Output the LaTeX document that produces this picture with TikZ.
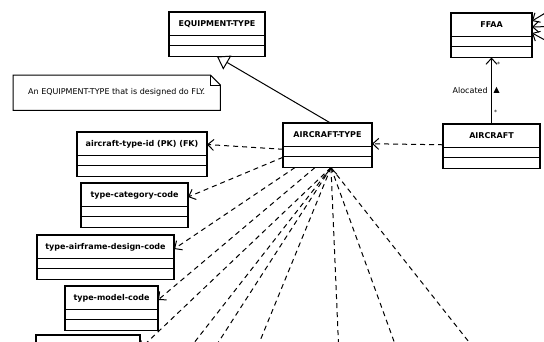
\documentclass[tikz,border=0pt]{standalone}
\usepackage{fontspec}
\setmainfont{DejaVu Sans}
\usetikzlibrary{arrows.meta,shapes.multipart}

\newcommand{\clsstrut}{\rule[-6.2pt]{0pt}{18pt}}

\begin{document}
\begin{tikzpicture}[x=1pt,y=-1pt,>={Straight Barb[length=6pt,width=11pt]},
  class box/.style={rectangle split,rectangle split parts=3,draw,line width=1.2pt,
    inner xsep=2pt,inner ysep=2pt,outer sep=0pt,anchor=north west,
    rectangle split empty part height=2.5pt,rectangle split empty part depth=0pt,
    font=\fontsize{8}{9.6}\selectfont\bfseries},
  dep/.style={->,dash pattern=on 5pt off 4pt,line width=1pt},
  assoc/.style={->,line width=1pt},
  gen/.style={-{Triangle[open,length=12pt,width=16pt]},line width=1pt},
  mult/.style={font=\fontsize{6}{7}\selectfont,inner sep=2pt}]
  \useasboundingbox (0,0) rectangle (544,341);
  \clip (0,0) rectangle (544,341);

  \foreach \n/\x/\y/\w/\t in {equip/169/12/96/EQUIPMENT-TYPE, ffaa/451/13/81/FFAA,
      actype/283/123/89/AIRCRAFT-TYPE, aircraft/443/124/97/AIRCRAFT,
      typeid/77/132/130/aircraft-type-id (PK) (FK), catcode/81/183/107/type-category-code,
      airframe/37/235/137/type-airframe-design-code, model/65/286/93/type-model-code}
    \node[class box,minimum width=\w pt] (\n) at (\x,\y) {\clsstrut\t\nodepart{two}\nodepart{three}};
  \node[class box,minimum width=104pt] (more) at (36,335) {\clsstrut\nodepart{two}\nodepart{three}};

  \node[font=\fontsize{8}{9.6}\selectfont,minimum width=207pt,minimum height=35pt,
    inner sep=0pt,anchor=north west] (note) at (13,75) {An EQUIPMENT-TYPE that is designed do FLY.};
  \draw[line width=1pt] (note.north west) -- ([xshift=-10pt]note.north east)
    -- ([yshift=-10pt]note.north east) -- (note.south east) -- (note.south west) -- cycle;
  \draw[line width=1pt] ([xshift=-10pt]note.north east) |- ([yshift=-10pt]note.north east);

  \draw[gen] ([xshift=3pt]actype.north) -- (equip.south);
  \draw[dep] ([yshift=1.5pt]aircraft.west) -- ([yshift=1.5pt]actype.east);

  \draw[assoc] (aircraft.north) -- (ffaa.south)
    node[mult,pos=0.9,right,xshift=3pt] {*} node[mult,pos=0.17,right] {*}
    node[pos=0.5,left,font=\fontsize{8}{9.6}\selectfont] (alloc) {Alocated}
    coordinate[pos=0.5] (mid);
  \fill ([xshift=2pt,yshift=-2pt]mid) -- ++(6,0) -- ++(-3,-6) -- cycle;

  \coordinate (r1) at (600,-20);
  \coordinate (r2) at (600,25);
  \coordinate (r3) at (600,70);
  \draw[assoc] (r1) -- ([yshift=-8pt]ffaa.north east);
  \draw[assoc] (r2) -- ([yshift=-14pt]ffaa.north east);
  \draw[assoc] (r3) -- ([yshift=-20pt]ffaa.north east);

  \draw[dep] ([yshift=-4pt]actype.west) -- ([yshift=-12.5pt]typeid.north east);
  \draw[dep] ([yshift=-12pt]actype.west) -- ([yshift=-14pt]catcode.north east);
  \draw[dep] ([xshift=12pt]actype.south west) -- ([yshift=-14pt]airframe.north east);
  \draw[dep] ([xshift=32pt]actype.south west) -- ([yshift=-14pt]model.north east);

  \coordinate (apex) at ([xshift=3.5pt]actype.south);
  \draw[dep] (apex) -- ([yshift=-14pt]more.north east);
  \foreach \x [count=\i] in {165,194,244,408,499}
    \coordinate (low\i) at (\x,380);
  \foreach \i in {1,...,5}
    \draw[dep] (apex) -- (low\i);
  \coordinate (up) at (340,380);
  \draw[dep] (up) -- (apex);
\end{tikzpicture}
\end{document}
